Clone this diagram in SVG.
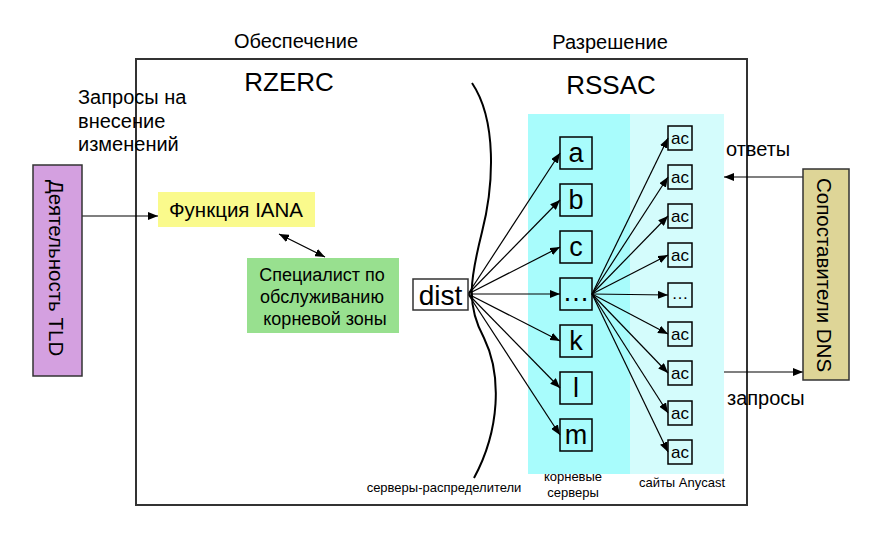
<svg xmlns="http://www.w3.org/2000/svg" width="886" height="534" viewBox="0 0 886 534">
<defs>
<marker id="ah" markerWidth="10" markerHeight="8" refX="10" refY="4" orient="auto-start-reverse" markerUnits="userSpaceOnUse">
<path d="M0,0 L10,4 L0,8 z" fill="#000"/>
</marker>
<style>
text{font-family:"Liberation Sans",Arial,sans-serif;fill:#000}
.box{stroke:#333;stroke-width:1.5}
.lb{fill:none;stroke:#000;stroke-width:1.5}
.conn line{stroke:#000;stroke-width:1.2;fill:none;marker-end:url(#ah)}
.t20{font-size:20px}
.t13{font-size:13px}
.let{font-size:27px;text-anchor:middle}
.ac{font-size:17px;text-anchor:middle}
</style>
</defs>
<rect width="886" height="534" fill="#fff"/>

<!-- frame -->
<rect x="136" y="59" width="611" height="446" fill="none" stroke="#333" stroke-width="2"/>

<!-- panels -->
<rect x="528" y="114" width="102" height="360" fill="#a8fcfc"/>
<rect x="630" y="114" width="94" height="360" fill="#d4fcfc"/>

<!-- titles -->
<text class="t20" x="296" y="48" text-anchor="middle">Обеспечение</text>
<text class="t20" x="610" y="49" text-anchor="middle">Разрешение</text>
<text x="289" y="91" font-size="26" text-anchor="middle">RZERC</text>
<text x="611" y="94" font-size="26" text-anchor="middle">RSSAC</text>
<text class="t20" x="78" y="104">Запросы на</text>
<text class="t20" x="78" y="128">внесение</text>
<text class="t20" x="78" y="151">изменений</text>
<text class="t20" x="726" y="156">ответы</text>
<text class="t20" x="727" y="405">запросы</text>
<text class="t13" x="444" y="492" text-anchor="middle">серверы-распределители</text>
<text class="t13" x="573" y="481" text-anchor="middle">корневые</text>
<text class="t13" x="573" y="497" text-anchor="middle">серверы</text>
<text class="t13" x="682" y="487" text-anchor="middle">сайты Anycast</text>

<!-- curve -->
<path d="M472,83 C497,120 494,185 482,232 C470,280 466,305 484,338 C502,375 500,430 474,478" fill="none" stroke="#000" stroke-width="2"/>

<!-- connectors -->
<g id="connectors" class="conn">
<line x1="82" y1="216" x2="158" y2="216"/>
<line x1="279" y1="234" x2="325" y2="257" style="marker-start:url(#ah)"/>
<line x1="468" y1="294" x2="560" y2="153"/>
<line x1="468" y1="294" x2="560" y2="200"/>
<line x1="468" y1="294" x2="560" y2="247"/>
<line x1="468" y1="294" x2="560" y2="294"/>
<line x1="468" y1="294" x2="560" y2="341"/>
<line x1="468" y1="294" x2="560" y2="388"/>
<line x1="468" y1="294" x2="560" y2="435"/>
<line x1="592" y1="294" x2="668" y2="138"/>
<line x1="592" y1="294" x2="668" y2="177"/>
<line x1="592" y1="294" x2="668" y2="216"/>
<line x1="592" y1="294" x2="668" y2="255"/>
<line x1="592" y1="294" x2="668" y2="295"/>
<line x1="592" y1="294" x2="668" y2="334"/>
<line x1="592" y1="294" x2="668" y2="373"/>
<line x1="592" y1="294" x2="668" y2="413"/>
<line x1="592" y1="294" x2="668" y2="452"/>
<line x1="803" y1="177" x2="724" y2="177"/>
<line x1="724" y1="372" x2="803" y2="372"/>
</g>

<g id="tld">
<rect class="box" x="33" y="165" width="49" height="211" fill="#d4a0e0"/>
<text transform="translate(56,268) rotate(90)" font-size="20.5" text-anchor="middle" dominant-baseline="central">Деятельность TLD</text>
</g>
<g id="iana">
<rect x="158" y="192" width="157" height="35" fill="#fafa8c"/>
<text x="236" y="217" font-size="20.5" text-anchor="middle">Функция IANA</text>
</g>
<g id="specialist">
<rect x="247" y="258" width="152" height="75" fill="#98e08f"/>
<text x="322" y="281" font-size="18" text-anchor="middle">Специалист по</text>
<text x="322" y="303" font-size="18" text-anchor="middle">обслуживанию</text>
<text x="325" y="325" font-size="18" text-anchor="middle">корневой зоны</text>
</g>
<g id="dist">
<rect class="box" x="413" y="279" width="55" height="31" fill="#fff"/>
<text x="440.5" y="305" font-size="28" text-anchor="middle">dist</text>
</g>
<g id="dns">
<rect class="box" x="803" y="169" width="46" height="211" fill="#ded597"/>
<text transform="translate(824,275) rotate(90)" font-size="20.5" text-anchor="middle" dominant-baseline="central">Сопоставители DNS</text>
</g>

<g id="root-a"><rect class="lb" x="560" y="137" width="32" height="32"/><text class="let" x="576" y="162">a</text></g>
<g id="root-b"><rect class="lb" x="560" y="184" width="32" height="32"/><text class="let" x="576" y="209">b</text></g>
<g id="root-c"><rect class="lb" x="560" y="231" width="32" height="32"/><text class="let" x="576" y="256">c</text></g>
<g id="root-dots"><rect class="lb" x="560" y="278" width="32" height="32"/><text class="let" x="576" y="301" font-size="22">…</text></g>
<g id="root-k"><rect class="lb" x="560" y="325" width="32" height="32"/><text class="let" x="576" y="350">k</text></g>
<g id="root-l"><rect class="lb" x="560" y="372" width="32" height="32"/><text class="let" x="576" y="397">l</text></g>
<g id="root-m"><rect class="lb" x="560" y="419" width="32" height="32"/><text class="let" x="576" y="444">m</text></g>

<g id="ac1"><rect class="lb" x="668" y="126" width="24" height="24"/><text class="ac" x="680" y="144">ac</text></g>
<g id="ac2"><rect class="lb" x="668" y="165" width="24" height="24"/><text class="ac" x="680" y="183">ac</text></g>
<g id="ac3"><rect class="lb" x="668" y="204" width="24" height="24"/><text class="ac" x="680" y="222">ac</text></g>
<g id="ac4"><rect class="lb" x="668" y="243" width="24" height="24"/><text class="ac" x="680" y="261">ac</text></g>
<g id="ac-dots"><rect class="lb" x="668" y="283" width="24" height="24"/><text class="ac" x="680" y="299" font-size="13">…</text></g>
<g id="ac6"><rect class="lb" x="668" y="322" width="24" height="24"/><text class="ac" x="680" y="340">ac</text></g>
<g id="ac7"><rect class="lb" x="668" y="361" width="24" height="24"/><text class="ac" x="680" y="379">ac</text></g>
<g id="ac8"><rect class="lb" x="668" y="401" width="24" height="24"/><text class="ac" x="680" y="419">ac</text></g>
<g id="ac9"><rect class="lb" x="668" y="440" width="24" height="24"/><text class="ac" x="680" y="458">ac</text></g>
</svg>
